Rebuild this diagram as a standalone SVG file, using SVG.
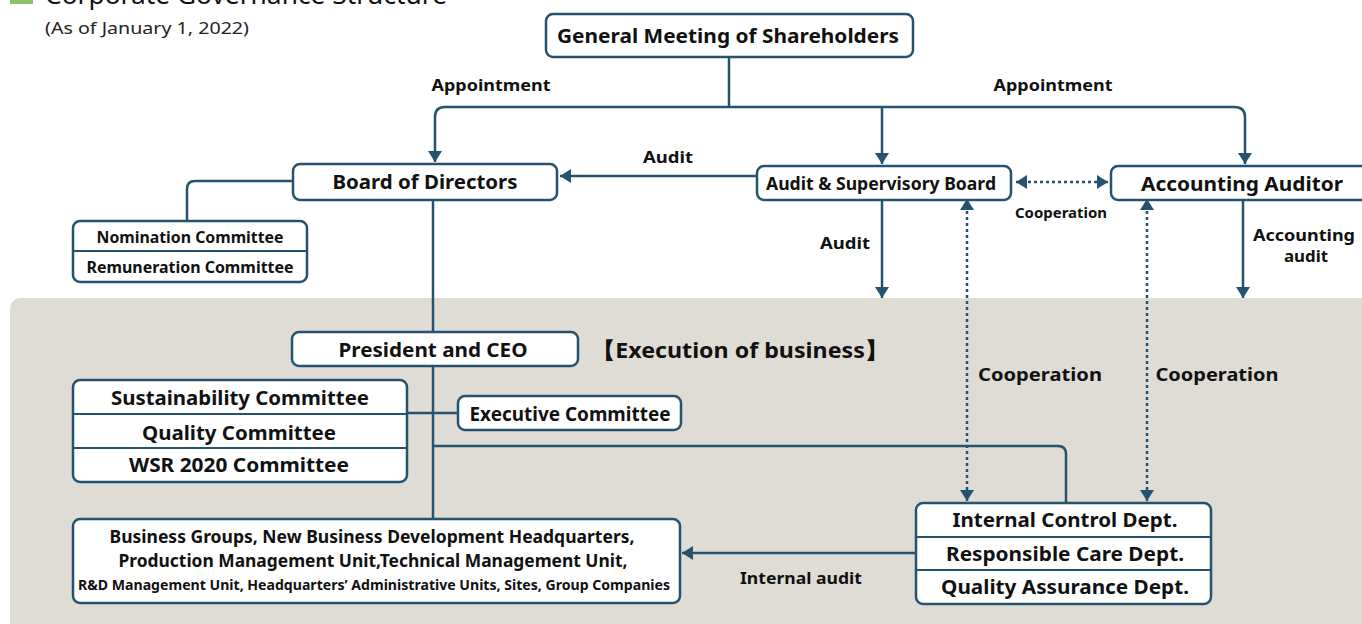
<svg xmlns="http://www.w3.org/2000/svg" width="1362" height="624" viewBox="0 0 1362 624">
<defs>
<style>
.box{fill:#fff;stroke:#24526f;stroke-width:2.5}
.ln{fill:none;stroke:#24526f;stroke-width:2.5}
.dot{fill:none;stroke:#24526f;stroke-width:2.5;stroke-dasharray:3 3}
.div{stroke:#24526f;stroke-width:2}
text{font-family:"Noto Sans","Liberation Sans",sans-serif;font-weight:bold;fill:#111;text-anchor:middle}
.lbl{font-size:16px}
.big{font-size:19px}
</style>
<marker id="ah" markerUnits="userSpaceOnUse" markerWidth="14" markerHeight="14" refX="11" refY="7" orient="auto">
<path d="M0,0 L11,7 L0,14 z" fill="#24526f"/>
</marker>
<marker id="ahs" markerUnits="userSpaceOnUse" markerWidth="14" markerHeight="14" refX="11" refY="7" orient="auto-start-reverse">
<path d="M0,0 L11,7 L0,14 z" fill="#24526f"/>
</marker>
</defs>
<rect x="0" y="0" width="1362" height="624" fill="#fff"/>
<!-- title -->
<rect x="10" y="-18" width="23" height="22" fill="#8dc26b"/>
<text x="45" y="4" style="font-size:26px;font-weight:normal;text-anchor:start" textLength="402" lengthAdjust="spacingAndGlyphs">Corporate Governance Structure</text>
<text x="45" y="34" style="font-size:17px;font-weight:normal;text-anchor:start;fill:#222" textLength="204" lengthAdjust="spacingAndGlyphs">(As of January 1, 2022)</text>
<!-- panel -->
<rect x="10" y="298" width="1370" height="340" rx="10" fill="#dedcd5"/>
<g id="connectors">
<path class="ln" d="M729,57 V107"/>
<path class="ln" d="M729,107 H445 Q435,107 435,117 V162" marker-end="url(#ah)"/>
<path class="ln" d="M729,107 H1234 Q1245,107 1245,117 V164" marker-end="url(#ah)"/>
<path class="ln" d="M882,107 V164" marker-end="url(#ah)"/>
<path class="ln" d="M757,176 H560" marker-end="url(#ah)"/>
<path class="dot" d="M1016,182 H1108" marker-start="url(#ahs)" marker-end="url(#ah)"/>
<path class="ln" d="M882,200 V298" marker-end="url(#ah)"/>
<path class="ln" d="M1243,200 V298" marker-end="url(#ah)"/>
<path class="dot" d="M967,199 V501" marker-start="url(#ahs)" marker-end="url(#ah)"/>
<path class="dot" d="M1147,199 V501" marker-start="url(#ahs)" marker-end="url(#ah)"/>
<path class="ln" d="M293,181 H195 Q187,181 187,189 V221"/>
<path class="ln" d="M433,200 V332"/>
<path class="ln" d="M433,366 V519"/>
<path class="ln" d="M407,413 H458"/>
<path class="ln" d="M433,446 H1058 Q1066,446 1066,454 V503"/>
<path class="ln" d="M916,553 H682" marker-end="url(#ah)"/>
</g>
<g id="labels">
<text class="lbl" x="491" y="91" textLength="119" lengthAdjust="spacingAndGlyphs">Appointment</text>
<text class="lbl" x="1053" y="91" textLength="119" lengthAdjust="spacingAndGlyphs">Appointment</text>
<text class="lbl" x="668" y="163" textLength="50" lengthAdjust="spacingAndGlyphs">Audit</text>
<text x="1061" y="218" style="font-size:14px" textLength="92" lengthAdjust="spacingAndGlyphs">Cooperation</text>
<text class="lbl" x="845" y="249" textLength="50" lengthAdjust="spacingAndGlyphs">Audit</text>
<text class="lbl" x="1304" y="241" textLength="102" lengthAdjust="spacingAndGlyphs">Accounting</text>
<text class="lbl" x="1306" y="262" textLength="44" lengthAdjust="spacingAndGlyphs">audit</text>
<text x="1040" y="381" style="font-size:18px" textLength="124" lengthAdjust="spacingAndGlyphs">Cooperation</text>
<text x="1217" y="381" style="font-size:18px" textLength="123" lengthAdjust="spacingAndGlyphs">Cooperation</text>
<text class="lbl" x="801" y="584" textLength="122" lengthAdjust="spacingAndGlyphs">Internal audit</text>
<text x="740" y="358" style="font-size:22px" textLength="296" lengthAdjust="spacingAndGlyphs">【Execution of business】</text>
</g>
<g id="gms">
<rect class="box" x="546" y="14" width="367" height="43" rx="7"/>
<text class="big" x="728" y="43" textLength="342" lengthAdjust="spacingAndGlyphs">General Meeting of Shareholders</text>
</g>
<g id="bod">
<rect class="box" x="293" y="164" width="264" height="36" rx="7"/>
<text class="big" x="425" y="189" textLength="185" lengthAdjust="spacingAndGlyphs">Board of Directors</text>
</g>
<g id="asb">
<rect class="box" x="757" y="166" width="254" height="34" rx="7"/>
<text x="881" y="190" style="font-size:18px" textLength="230" lengthAdjust="spacingAndGlyphs">Audit &amp; Supervisory Board</text>
</g>
<g id="aa">
<rect class="box" x="1111" y="166" width="270" height="34" rx="7"/>
<text class="big" x="1242" y="191" textLength="202" lengthAdjust="spacingAndGlyphs">Accounting Auditor</text>
</g>
<g id="nomrem">
<rect class="box" x="73" y="221" width="234" height="61" rx="7"/>
<line class="div" x1="74" y1="251" x2="306" y2="251"/>
<text class="lbl" x="190" y="243" textLength="187" lengthAdjust="spacingAndGlyphs">Nomination Committee</text>
<text class="lbl" x="190" y="273" textLength="207" lengthAdjust="spacingAndGlyphs">Remuneration Committee</text>
</g>
<g id="ceo">
<rect class="box" x="292" y="332" width="286" height="34" rx="7"/>
<text class="big" x="433" y="357" textLength="189" lengthAdjust="spacingAndGlyphs">President and CEO</text>
</g>
<g id="committees">
<rect class="box" x="73" y="380" width="334" height="102" rx="7"/>
<line class="div" x1="74" y1="414" x2="406" y2="414"/>
<line class="div" x1="74" y1="448" x2="406" y2="448"/>
<text class="big" x="240" y="405" textLength="258" lengthAdjust="spacingAndGlyphs">Sustainability Committee</text>
<text class="big" x="239" y="440" textLength="194" lengthAdjust="spacingAndGlyphs">Quality Committee</text>
<text class="big" x="239" y="472" textLength="220" lengthAdjust="spacingAndGlyphs">WSR 2020 Committee</text>
</g>
<g id="exec">
<rect class="box" x="458" y="396" width="223" height="34" rx="7"/>
<text class="big" x="570" y="421" textLength="201" lengthAdjust="spacingAndGlyphs">Executive Committee</text>
</g>
<g id="business">
<rect class="box" x="73" y="519" width="607" height="84" rx="7"/>
<text x="372" y="543" style="font-size:17px" textLength="525" lengthAdjust="spacingAndGlyphs">Business Groups, New Business Development Headquarters,</text>
<text x="373" y="567" style="font-size:17px" textLength="509" lengthAdjust="spacingAndGlyphs">Production Management Unit,Technical Management Unit,</text>
<text x="374" y="590" style="font-size:15px" textLength="592" lengthAdjust="spacingAndGlyphs">R&amp;D Management Unit, Headquarters’ Administrative Units, Sites, Group Companies</text>
</g>
<g id="depts">
<rect class="box" x="916" y="503" width="295" height="101" rx="7"/>
<line class="div" x1="917" y1="537" x2="1210" y2="537"/>
<line class="div" x1="917" y1="570" x2="1210" y2="570"/>
<text class="big" x="1065" y="527" textLength="225" lengthAdjust="spacingAndGlyphs">Internal Control Dept.</text>
<text class="big" x="1065" y="561" textLength="238" lengthAdjust="spacingAndGlyphs">Responsible Care Dept.</text>
<text class="big" x="1065" y="594" textLength="248" lengthAdjust="spacingAndGlyphs">Quality Assurance Dept.</text>
</g>
</svg>
